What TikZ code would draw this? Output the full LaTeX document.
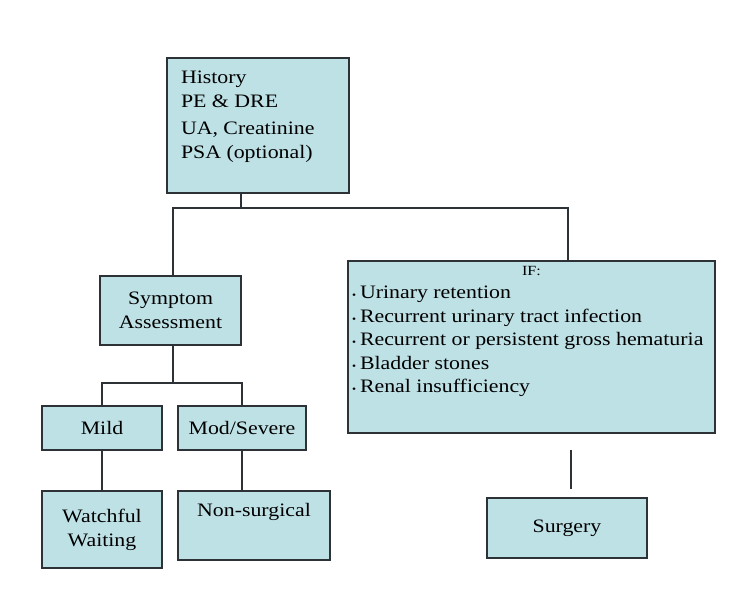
\documentclass[tikz,border=0pt]{standalone}
\usepackage{fontspec}
\setmainfont{Liberation Serif}[FakeStretch=1.15]
\usepackage{tikz}
\usetikzlibrary{positioning}
\usetikzlibrary{calc}
\definecolor{boxFill}{RGB}{190,225,230}
\definecolor{boxLine}{RGB}{45,50,55}
\def\boxFont{\fontsize{19}{24}\selectfont}
\def\listFont{\fontsize{19}{23.5}\selectfont}
\def\ifItem{\makebox[8pt][l]{\fontsize{10}{10}\selectfont\textbullet}}
\tikzset{% flow chart styles
  box/.style  = {draw=boxLine, fill=boxFill, line width=1.8pt, rectangle,
    align=center, inner sep=4pt, font=\boxFont},
  link/.style = {draw=boxLine, line width=1.6pt},
}
\begin{document}
\begin{tikzpicture}[x=1pt, y=-1pt]
      \useasboundingbox (0,0) rectangle (730,591);

      % Work-up
      \node[box, minimum width=182pt, minimum height=135pt, inner sep=0pt] (History) at (258,125.5)
      {\parbox[t][121pt][t]{154pt}{\vspace*{6pt}\raggedright
        History\\PE \& DRE\\[3pt]UA, Creatinine\\PSA (optional)}};

      % Left branch
      \node[box, minimum width=141pt, minimum height=69pt] (Symptom) at (170.5,310.5)
      {Symptom\\Assessment};
      \node[box, minimum width=120pt, minimum height=44pt] (Mild) at (102,428) {Mild};
      \node[box, minimum width=128pt, minimum height=44pt] (ModSevere) at (242,428) {Mod/Severe};
      \node[box, minimum width=120pt, minimum height=77pt] (Watchful) at (102,529.5)
      {Watchful\\Waiting};
      \node[box, minimum width=152pt, minimum height=69pt, text height=21pt,
        text depth=40pt] (NonSurgical) at (254,525.5) {Non-surgical};

      % Right branch
      \node[box, minimum width=367pt, minimum height=172pt, inner sep=3pt,
        anchor=north, font=\listFont] (IF) at (531.5,260)
      {\parbox[t][162pt][t]{359pt}{\centering{\fontsize{14}{16}\selectfont IF:}\par
        \raggedright
        \ifItem Urinary retention\par
        \ifItem Recurrent urinary tract infection\par
        \ifItem Recurrent or persistent gross hematuria\par
        \ifItem Bladder stones\par
        \ifItem Renal insufficiency\par}};
      \node[box, minimum width=160pt, minimum height=60pt] (Surgery) at (567,528) {Surgery};

      % Connectors
      \coordinate (busTop) at (173,208);
      \coordinate (busTopR) at (568,208);
      \coordinate (busSym) at (0,383);
      \draw[link] ([xshift=-17pt]History.south) -- ([xshift=-17pt]History.south |- busTop);
      \draw[link] (Symptom.north -| busTop) -- (busTop) -- (busTopR) -- (IF.north -| busTopR);
      \draw[link] ([xshift=2.5pt]Symptom.south) -- ([xshift=2.5pt]Symptom.south |- busSym);
      \draw[link] (Mild.north) -- (Mild.north |- busSym) -- (ModSevere.north |- busSym) -- (ModSevere.north);
      \draw[link] (Mild.south) -- (Watchful.north);
      \draw[link] (ModSevere.south) -- (ModSevere.south |- NonSurgical.north);
      \draw[link] ([xshift=4pt,yshift=-16pt]IF.south -| Surgery.north) -- ([xshift=4pt,yshift=8pt]Surgery.north);
\end{tikzpicture}
\end{document}
